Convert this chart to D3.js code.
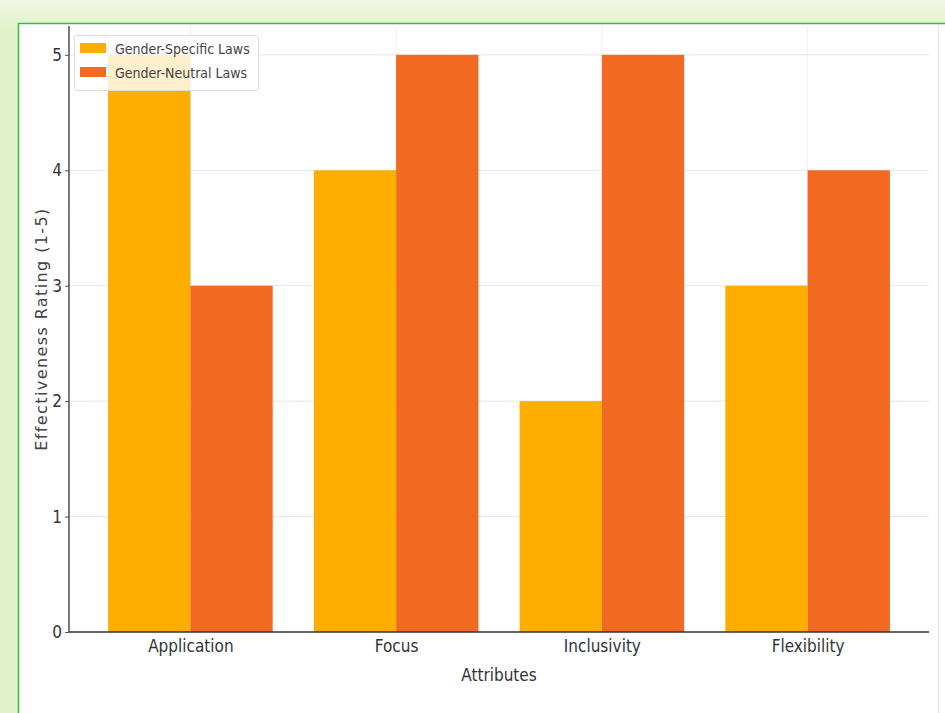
<!DOCTYPE html>
<html><head><meta charset="utf-8">
<script src="https://cdn.jsdelivr.net/npm/d3@7"></script>
<style>
html,body{margin:0;padding:0;background:#fff;}
svg{display:block;}
</style></head>
<body>
<script>
const categories = ["Application", "Focus", "Inclusivity", "Flexibility"];
const seriesNames = ["Gender-Specific Laws", "Gender-Neutral Laws"];
const specificValues = [5, 4, 2, 3];
const neutralValues = [3, 5, 5, 4];
const yTicks = [0, 1, 2, 3, 4, 5];
const colors = ["#FFAE00", "#F26A22"];

const W = 945, H = 713;
const svg = d3.select("body").append("svg").attr("width", W).attr("height", H);

// outer frame
const defs = svg.append("defs");
const g1 = defs.append("linearGradient").attr("id", "bg").attr("x1", 0).attr("y1", 0).attr("x2", 0).attr("y2", 1);
g1.append("stop").attr("offset", "0%").attr("stop-color", "#f1f8e4");
g1.append("stop").attr("offset", "4%").attr("stop-color", "#e2f2c8");
g1.append("stop").attr("offset", "100%").attr("stop-color", "#e2f2c8");
svg.append("rect").attr("x", 0).attr("y", 0).attr("width", W).attr("height", H).attr("fill", "url(#bg)");
svg.append("rect").attr("x", 18.5).attr("y", 23.5).attr("width", W + 10).attr("height", H + 10)
  .attr("fill", "#ffffff").attr("stroke", "#2ebd4e").attr("stroke-width", 1.5);
svg.append("line").attr("x1", 938.5).attr("x2", 938.5).attr("y1", 25).attr("y2", H).attr("stroke", "#e6e6e6");

const margin = {left: 69, right: 929, top: 26, bottom: 632};

const x = d3.scaleLinear().domain([-0.59, categories.length - 1 + 0.59]).range([margin.left, margin.right]);
const xc = d => x(categories.indexOf(d));
const barW = x(0.4) - x(0);
const y = d3.scaleLinear().domain([0, 5.25]).range([margin.bottom, margin.top]);

// gridlines
const grid = svg.append("g");
grid.selectAll("line.h").data(yTicks.slice(1)).enter().append("line")
  .attr("x1", margin.left).attr("x2", margin.right)
  .attr("y1", d => y(d)).attr("y2", d => y(d))
  .attr("stroke", "#e6e6e6").attr("stroke-width", 1);
grid.selectAll("line.v").data(categories).enter().append("line")
  .attr("x1", d => xc(d)).attr("x2", d => xc(d))
  .attr("y1", margin.top).attr("y2", margin.bottom)
  .attr("stroke", "#eeeeee").attr("stroke-width", 1);

// bars
const data = categories.map((c, i) => ({cat: c, vals: [specificValues[i], neutralValues[i]]}));
const groups = svg.append("g").selectAll("g").data(data).enter().append("g");
groups.selectAll("rect").data(d => d.vals.map((v, j) => ({cat: d.cat, v, j}))).enter().append("rect")
  .attr("x", d => xc(d.cat) + (d.j - 1) * barW)
  .attr("width", barW)
  .attr("y", d => y(d.v))
  .attr("height", d => y(0) - y(d.v))
  .attr("fill", d => colors[d.j]);

const font = "DejaVu Sans Condensed, DejaVu Sans";
// axes
const yAxis = svg.append("g").attr("transform", `translate(${margin.left},0)`)
  .call(d3.axisLeft(y).tickValues(yTicks).tickFormat(d3.format("d")).tickSize(4).tickPadding(3));
yAxis.select(".domain").attr("d", `M0,${margin.top}V${margin.bottom}`).attr("stroke", "#333").attr("stroke-width", 1.3);
yAxis.selectAll(".tick line").attr("stroke", "#555");
yAxis.selectAll("text").attr("font-family", font).attr("font-size", 17).attr("fill", "#333");

const xAxis = svg.append("g").attr("transform", `translate(0,${margin.bottom})`)
  .call(d3.axisBottom(x).tickValues(categories.map((c, i) => i)).tickFormat(i => categories[i]).tickSize(0).tickPadding(8));
xAxis.select(".domain").attr("d", `M${margin.left},0H${margin.right}`).attr("stroke", "#333").attr("stroke-width", 1.3);
xAxis.selectAll("text").attr("font-family", font).attr("font-size", 17).attr("fill", "#333");

svg.append("text").attr("x", x((categories.length - 1) / 2)).attr("y", 681).attr("text-anchor", "middle")
  .attr("font-family", font).attr("font-size", 17).attr("fill", "#333")
  .text("Attributes");

svg.append("text").attr("transform", `translate(47,329) rotate(-90)`)
  .attr("text-anchor", "middle")
  .attr("font-family", "DejaVu Sans").attr("font-size", 16).attr("fill", "#444")
  .attr("letter-spacing", 1.4)
  .text("Effectiveness Rating (1-5)");

// legend
const leg = svg.append("g");
leg.append("rect").attr("x", 74.5).attr("y", 35.5).attr("width", 184).attr("height", 55).attr("rx", 2)
  .attr("fill", "#ffffff").attr("fill-opacity", 0.8).attr("stroke", "#dddddd");
seriesNames.forEach((s, i) => {
  leg.append("rect").attr("x", 80).attr("y", 43 + i * 24).attr("width", 26).attr("height", 10).attr("fill", colors[i]);
  leg.append("text").attr("x", 115).attr("y", 54 + i * 24)
    .attr("font-family", font).attr("font-size", 14).attr("fill", "#444")
    .text(s);
});
</script>
</body></html>
